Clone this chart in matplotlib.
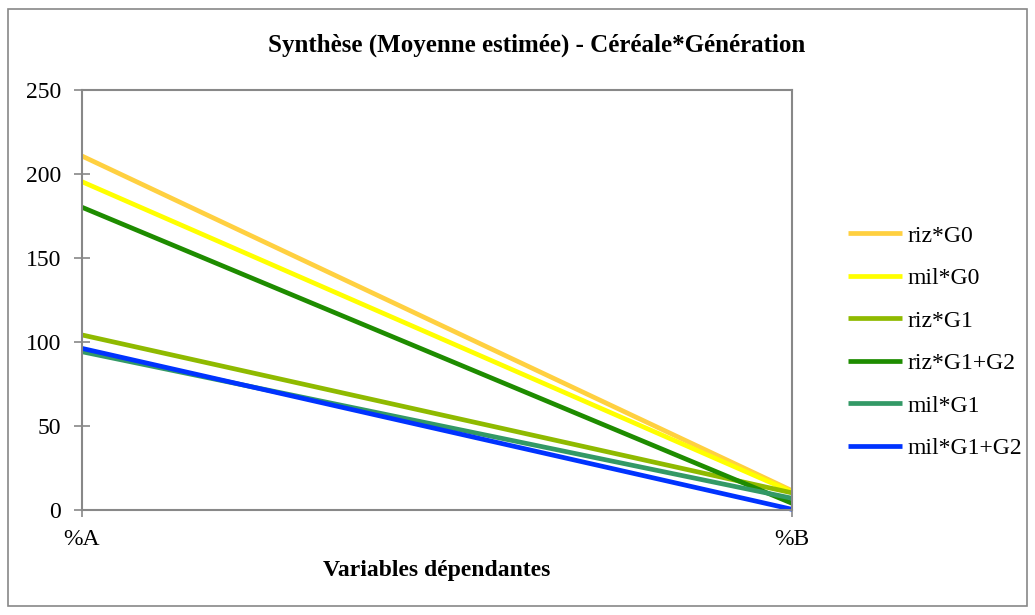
import matplotlib.pyplot as plt

plt.rcParams['font.family'] = ['Liberation Serif', 'DejaVu Serif']

# mean estimates per group, on the two dependent variables
variables = ['%A', '%B']
series_names = ['riz*G0', 'mil*G0', 'riz*G1', 'riz*G1+G2', 'mil*G1', 'mil*G1+G2']
riz_g0 = [210.7, 11.5]
mil_g0 = [195.4, 10.8]
riz_g1 = [104.2, 10.2]
riz_g1g2 = [180.2, 4.0]
mil_g1 = [94.2, 7.0]
mil_g1g2 = [96.2, 0.4]
colors = ['#FFD040', '#FFFF00', '#8FBA00', '#1E8C00', '#339966', '#0033FF']

values = [riz_g0, mil_g0, riz_g1, riz_g1g2, mil_g1, mil_g1g2]

W, H = 1035, 615
fig = plt.figure(figsize=(W / 100, H / 100), dpi=100)
ax = fig.add_axes([82 / W, 1 - 510 / H, 710 / W, 420 / H])

xs = range(len(variables))
for name, vals, c in zip(series_names, values, colors):
    ax.plot(xs, vals, color=c, lw=3.4, label=name, solid_capstyle='butt',
            clip_on=False)

ax.set_xlim(0, 1)
ax.set_ylim(0, 250)
ax.set_yticks(range(0, 251, 50))
ax.set_xticks(list(xs))
ax.set_xticklabels(variables)
ax.tick_params(axis='both', labelsize=17, color='#888888', width=1.2,
               direction='inout')
ax.tick_params(axis='y', length=12, pad=9)
ax.tick_params(axis='x', length=10, pad=9)
for s in ax.spines.values():
    s.set_color('#888888')
    s.set_linewidth(1.5)

ax.set_xlabel('Variables dépendantes', fontsize=17, fontweight='bold', labelpad=7)
fig.text(537 / W, 1 - 45 / H, 'Synthèse (Moyenne estimée) - Céréale*Génération',
         ha='center', va='center', fontsize=18, fontweight='bold')

ax.legend(loc='upper left', bbox_to_anchor=(848 / W, 1 - 225 / H),
          bbox_transform=fig.transFigure, frameon=False, fontsize=17,
          borderpad=0, borderaxespad=0, handlelength=2.3, handletextpad=0.2,
          labelspacing=0.89)

# outer chart border
fig.patches.append(plt.Rectangle((8 / W, 9 / H), 1019 / W, 597 / H,
                                 transform=fig.transFigure, fill=False,
                                 edgecolor='#888888', lw=1.2))

fig.savefig('out.png', dpi=100)
